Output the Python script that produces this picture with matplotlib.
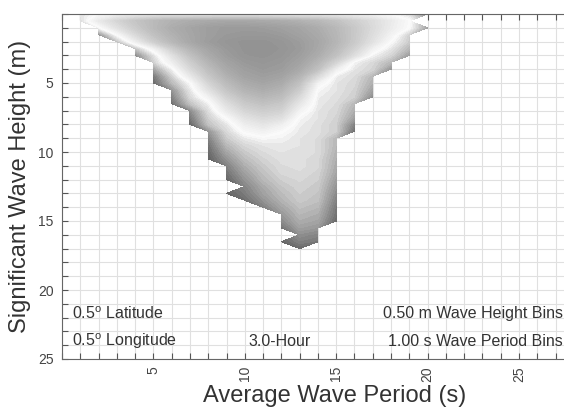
import numpy as np
import matplotlib
matplotlib.use("Agg")
import matplotlib.pyplot as plt
from matplotlib.colors import LinearSegmentedColormap

plt.rcParams["font.family"] = ["Liberation Sans", "DejaVu Sans"]
plt.rcParams["mathtext.fontset"] = "custom"
plt.rcParams["mathtext.rm"] = "Liberation Sans"

# grid of bins: wave period (s) columns, wave height (m) rows
periods = np.arange(0, 22)
heights = np.arange(0, 17.5, 0.5)

# first period bin that has data in each height row
row_start = [1, 1, 2, 2, 3, 4, 4, 5, 5, 5, 5, 6, 6, 6, 7, 7, 7, 8, 8, 8, 8, 8,
             9, 9, 9, 10, 9, 10, 11, 12, 12, 12, 13, 12, 13]

# relative occurrence, one list per height row
rows = [
    [0.30, 0.36, 0.40, 0.42, 0.44, 0.45, 0.45, 0.45, 0.45, 0.45, 0.45, 0.44, 0.44, 0.43, 0.42, 0.40, 0.38, 0.34, 0.28, 0.10],
    [0.28, 0.45, 0.58, 0.68, 0.75, 0.80, 0.83, 0.85, 0.86, 0.86, 0.85, 0.83, 0.80, 0.76, 0.70, 0.62, 0.54, 0.45, 0.36],
    [0.33, 0.50, 0.64, 0.75, 0.83, 0.88, 0.92, 0.94, 0.94, 0.93, 0.91, 0.88, 0.83, 0.76, 0.66, 0.55, 0.44, 0.35, 0.15],
    [0.12, 0.35, 0.55, 0.70, 0.80, 0.87, 0.92, 0.95, 0.96, 0.96, 0.94, 0.90, 0.85, 0.77, 0.66, 0.53, 0.40, 0.25],
    [0.22, 0.42, 0.62, 0.76, 0.86, 0.93, 0.97, 0.99, 0.99, 0.97, 0.93, 0.87, 0.78, 0.65, 0.50, 0.35, 0.24],
    [0.22, 0.40, 0.62, 0.78, 0.88, 0.95, 0.99, 1.00, 0.98, 0.94, 0.86, 0.75, 0.60, 0.41, 0.30, 0.20],
    [0.10, 0.28, 0.50, 0.70, 0.84, 0.93, 0.98, 0.99, 0.97, 0.92, 0.83, 0.70, 0.52, 0.33, 0.26, 0.14],
    [0.25, 0.42, 0.62, 0.78, 0.89, 0.95, 0.97, 0.95, 0.89, 0.77, 0.58, 0.33, 0.27, 0.20],
    [0.15, 0.32, 0.55, 0.72, 0.85, 0.92, 0.95, 0.93, 0.85, 0.70, 0.42, 0.30, 0.26, 0.12],
    [0.06, 0.25, 0.45, 0.66, 0.80, 0.89, 0.92, 0.89, 0.78, 0.55, 0.32, 0.28, 0.20],
    [0.03, 0.20, 0.34, 0.58, 0.74, 0.84, 0.88, 0.84, 0.70, 0.40, 0.30, 0.27, 0.18],
    [0.12, 0.30, 0.50, 0.68, 0.79, 0.83, 0.79, 0.63, 0.34, 0.30, 0.26, 0.15],
    [0.08, 0.27, 0.40, 0.60, 0.72, 0.77, 0.73, 0.55, 0.32, 0.29, 0.25, 0.10],
    [0.04, 0.22, 0.32, 0.52, 0.65, 0.70, 0.66, 0.47, 0.31, 0.28, 0.20],
    [0.10, 0.28, 0.45, 0.58, 0.63, 0.60, 0.40, 0.30, 0.27, 0.18],
    [0.06, 0.25, 0.36, 0.50, 0.56, 0.52, 0.34, 0.30, 0.26, 0.15],
    [0.02, 0.22, 0.30, 0.43, 0.48, 0.42, 0.32, 0.29, 0.25, 0.08],
    [0.12, 0.27, 0.37, 0.41, 0.36, 0.31, 0.29, 0.25, 0.04],
    [0.08, 0.24, 0.31, 0.34, 0.33, 0.30, 0.28, 0.20],
    [0.05, 0.20, 0.27, 0.30, 0.31, 0.30, 0.28, 0.20],
    [0.03, 0.16, 0.24, 0.28, 0.30, 0.30, 0.28, 0.19],
    [0.01, 0.12, 0.21, 0.26, 0.29, 0.29, 0.27, 0.18],
    [0.08, 0.18, 0.24, 0.28, 0.29, 0.27, 0.17],
    [0.05, 0.15, 0.22, 0.27, 0.28, 0.26, 0.16],
    [0.02, 0.12, 0.20, 0.25, 0.27, 0.25, 0.14],
    [0.09, 0.17, 0.23, 0.26, 0.24, 0.12],
    [0.02, 0.07, 0.15, 0.21, 0.25, 0.23, 0.10],
    [0.04, 0.12, 0.19, 0.24, 0.22, 0.08],
    [0.08, 0.16, 0.22, 0.20, 0.06],
    [0.13, 0.20, 0.18, 0.05],
    [0.10, 0.18, 0.16, 0.03],
    [0.05, 0.15, 0.13],
    [0.11, 0.09],
    [0.02, 0.08, 0.06],
    [0.03],
]

x_ticks = [5, 10, 15, 20, 25]
y_ticks = [5, 10, 15, 20, 25]

Z = np.full((len(heights), len(periods)), np.nan)
for i, (s, vals) in enumerate(zip(row_start, rows)):
    Z[i, s:s + len(vals)] = vals
Z = np.ma.masked_invalid(Z)

cmap = LinearSegmentedColormap.from_list(
    "wave", [(0.0, "#5c5c5c"), (0.35, "#fbfbfb"), (1.0, "#929292")])

fig = plt.figure(figsize=(5.64, 4.12), dpi=100)
ax = fig.add_axes([62 / 564, 1 - 359 / 412, (564 - 62) / 564, (359 - 14) / 412])

ax.contourf(periods, heights, Z, levels=np.linspace(0, 1, 61), cmap=cmap,
            vmin=0, vmax=1, zorder=2)

ax.set_xlim(0, 27.46)
ax.set_ylim(25, 0)
ax.set_xticks(x_ticks)
ax.set_yticks(y_ticks)
ax.set_xticks(np.arange(0, 28), minor=True)
ax.set_yticks(np.arange(0, 26), minor=True)
ax.grid(which="both", color="#e0e0e0", linewidth=0.8, zorder=0)
ax.set_axisbelow(True)
ax.tick_params(which="both", direction="in", length=4, width=0.8,
               color="#555555", top=True, left=True, right=False,
               labelcolor="#444444", labelsize=10)
ax.tick_params(axis="x", labelrotation=90, pad=5)
ax.tick_params(axis="y", pad=6)
for side in ["left", "bottom", "top"]:
    ax.spines[side].set_color("#666666")
ax.spines["right"].set_visible(False)

ax.set_xlabel("Average Wave Period (s)", fontsize=17, color="#333333", labelpad=3)
ax.xaxis.set_label_coords((335 - 62) / 502, -0.075, transform=ax.transAxes)
ax.xaxis.label.set_va("top")
ax.set_ylabel("Significant Wave Height (m)", fontsize=17, color="#333333", labelpad=5)

txt = dict(fontsize=11.5, color="#333333", va="center", zorder=5)
ax.text(0.55, 21.7, r"0.5$^{\mathrm{o}}$ Latitude", ha="left", **txt)
ax.text(0.55, 23.7, r"0.5$^{\mathrm{o}}$ Longitude", ha="left", **txt)
ax.text(11.9, 23.7, "3.0-Hour", ha="center", **txt)
ax.text(27.4, 21.7, "0.50 m Wave Height Bins", ha="right", **txt)
ax.text(27.4, 23.7, "1.00 s Wave Period Bins", ha="right", **txt)

fig.savefig("out.png", dpi=100)
